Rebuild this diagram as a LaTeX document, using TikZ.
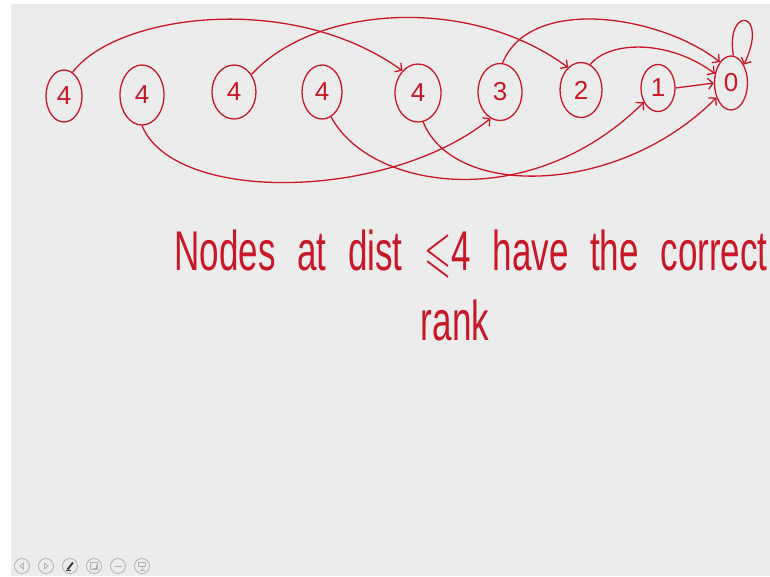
\documentclass[tikz,border=0pt]{standalone}
\usepackage{fontspec}
\usepackage{amssymb}
\setmainfont{Liberation Sans}
\usetikzlibrary{shapes.geometric,arrows.meta}
\definecolor{ink}{RGB}{200,24,40}
\definecolor{board}{RGB}{236,236,236}
\definecolor{btn}{RGB}{178,178,178}
\begin{document}
\begin{tikzpicture}[x=1pt,y=-1pt,
  rank/.style={ellipse,draw=ink,line width=1.3pt,inner sep=0pt,text=ink,
    font=\fontsize{26}{26}\selectfont},
  link/.style={draw=ink,line width=1.3pt,
    -{Straight Barb[length=5pt,width=11pt]}},
  note/.style={text=ink,font=\fontsize{35}{35}\selectfont,inner sep=0pt},
  button/.style={circle,draw=btn,line width=0.8pt,minimum size=15pt,inner sep=0pt},
  glyph/.style={draw=btn,line width=0.8pt}]
\useasboundingbox (0,0) rectangle (770,576);
\fill[white] (0,0) rectangle (770,576);
\fill[board] (11,4) rectangle (770,576);

% list nodes, labelled by rank
\node[rank,minimum width=36pt,minimum height=52pt] (n1) at (64,96) {4};
\node[rank,minimum width=44pt,minimum height=60pt] (n2) at (142,95) {4};
\node[rank,minimum width=44pt,minimum height=54pt] (n3) at (234,92) {4};
\node[rank,minimum width=40pt,minimum height=54pt] (n4) at (322,92) {4};
\node[rank,minimum width=46pt,minimum height=58pt] (n5) at (418,93) {4};
\node[rank,minimum width=44pt,minimum height=57pt] (n6) at (500,92) {3};
\node[rank,minimum width=42pt,minimum height=55pt] (n7) at (581,90) {2};
\node[rank,minimum width=34pt,minimum height=47pt] (n8) at (658,88) {1};
\node[rank,minimum width=33pt,minimum height=54pt] (n9) at (731,83) {0};

% pointers above the list
\draw[link] (n1.70) .. controls (115,15) and (290,-10) .. (n5.125);
\draw[link] (n3.45) .. controls (315,5) and (470,-5) .. (n7.120);
\draw[link] (n6.85) .. controls (530,-5) and (660,15) .. (n9.118);
\draw[link] (n7.70) .. controls (610,40) and (670,40) .. (n9.150);
\draw[link] (n8.east) -- (n9.west);
\draw[link] (n9.85) .. controls (725,5) and (770,10) .. (n9.55);

% pointers below the list
\draw[link] (n2.270) .. controls (175,205) and (390,200) .. (n6.250);
\draw[link] (n4.290) .. controls (370,190) and (530,215) .. (n8.225);
\draw[link] (n5.280) .. controls (455,200) and (620,195) .. (n9.225);

% remark
\node[note] (t1) at (471,254)
  {\scalebox{1}[1.6]{\spaceskip=0.62em Nodes at dist $\leqslant$4 have the correct}};
\node[note] (t2) at (455,320) {\scalebox{1}[1.6]{rank}};

% viewer toolbar
\node[button] (b1) at (22,566) {};
\node[button] (b2) at (46,566) {};
\node[button] (b3) at (70,566) {};
\node[button] (b4) at (94,566) {};
\node[button] (b5) at (118,566) {};
\node[button] (b6) at (142,566) {};
\begin{scope}[shift={(b1.center)}]
  \draw[glyph] (1.5,-3) -- (-2,0) -- (1.5,3) -- cycle;
\end{scope}
\begin{scope}[shift={(b2.center)}]
  \draw[glyph] (-1.5,-3) -- (2,0) -- (-1.5,3) -- cycle;
\end{scope}
\begin{scope}[shift={(b3.center)}]
  \draw[black!75,line width=2pt] (-2.5,3.5) -- (3,-3.5);
  \draw[black!75,line width=0.8pt] (-4,4.5) -- (1,4.5);
\end{scope}
\begin{scope}[shift={(b4.center)}]
  \draw[glyph] (-3.5,-3.5) rectangle (3.5,3.5);
  \draw[glyph] (-1.5,2) -- (2,2) -- (2,-1.5);
\end{scope}
\begin{scope}[shift={(b5.center)}]
  \draw[glyph] (-3.5,0) -- (3.5,0);
\end{scope}
\begin{scope}[shift={(b6.center)}]
  \draw[glyph] (-3.5,-4) rectangle (3.5,0.5);
  \draw[glyph] (0,0.5) -- (0,4) (-2.5,4) -- (2.5,4);
\end{scope}
\end{tikzpicture}
\end{document}
